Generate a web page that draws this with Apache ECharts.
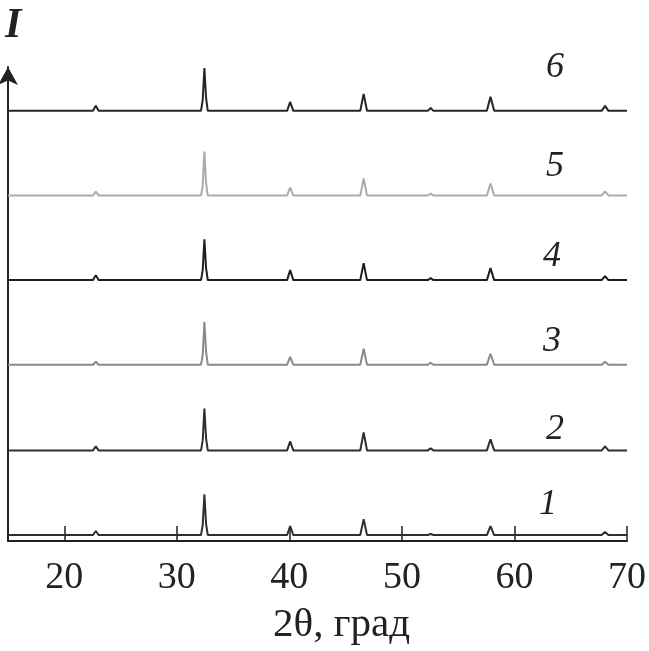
<!DOCTYPE html>
<html>
<head>
<meta charset="utf-8">
<script src="https://cdn.jsdelivr.net/npm/echarts@6/dist/echarts.min.js"></script>
<style>
  html, body { margin: 0; padding: 0; background: #fff; }
  #chart { width: 649px; height: 651px; }
</style>
</head>
<body>
<div id="chart"></div>
<script>
// 2θ positions where the patterns were sampled (deg)
const twoTheta = [15, 22.55, 22.8, 23.05, 32.15, 32.3, 32.45, 32.6, 32.75, 39.8, 40.07, 40.35,
  46.3, 46.6, 46.9, 52.3, 52.55, 52.8, 57.55, 57.87, 58.2, 67.75, 68.05, 68.35, 70];

// intensities for each pattern (arb. units), curve 1 .. curve 6
const curve1 = [0, 0, 4, 0, 0, 10, 41, 11, 0, 0, 9, 0, 0, 16, 0, 0, 1, 0, 0, 9, 0, 0, 3, 0, 0];
const curve2 = [0, 0, 4, 0, 0, 10, 42, 12, 0, 0, 9, 0, 0, 18, 0, 0, 2, 0, 0, 11, 0, 0, 4, 0, 0];
const curve3 = [0, 0, 3, 0, 0, 10, 43, 13, 0, 0, 8, 0, 0, 16, 0, 0, 2, 0, 0, 11, 0, 0, 3, 0, 0];
const curve4 = [0, 0, 5, 0, 0, 10, 41, 12, 0, 0, 10, 0, 0, 17, 0, 0, 2, 0, 0, 12, 0, 0, 4, 0, 0];
const curve5 = [0, 0, 4, 0, 0, 10, 44, 12, 0, 0, 8, 0, 0, 17, 0, 0, 2, 0, 0, 12, 0, 0, 4, 0, 0];
const curve6 = [0, 0, 5, 0, 0, 11, 43, 13, 0, 0, 9, 0, 0, 17, 0, 0, 3, 0, 0, 14, 0, 0, 5, 0, 0];

const curves = [curve1, curve2, curve3, curve4, curve5, curve6];
const curveNames = ["1", "2", "3", "4", "5", "6"];
// vertical shift of each pattern
const offsets = [6, 91, 177, 262, 347, 432];
const colors = ["#2e2e2e", "#2e2e2e", "#8a8a8a", "#1e1e1e", "#ababab", "#262626"];

const xTicks = [20, 30, 40, 50, 60, 70];

// label placement for the curve numbers (pixels)
const labelPos = [[548, 505], [555, 430], [552, 342], [552, 257], [555, 167], [555, 68]];

const chart = echarts.init(document.getElementById("chart"));

const seriesArr = curves.map((vals, i) => {
  return {
    type: "line",
    name: curveNames[i],
    showSymbol: false,
    silent: true,
    animation: false,
    lineStyle: { color: colors[i], width: 2 },
    data: twoTheta.map((x, k) => [x, offsets[i] + vals[k]]),
  };
});

const option = {
  backgroundColor: "#fff",
  grid: { left: 8, right: 21, top: 67, bottom: 108 },
  xAxis: {
    type: "value",
    min: 15,
    max: 70,
    name: "2θ, град",
    nameLocation: "middle",
    nameGap: 64,
    nameTextStyle: {
      fontFamily: "Liberation Serif",
      fontSize: 41,
      color: "#222",
      padding: [0, 0, 0, 48],
    },
    axisLine: { show: true, lineStyle: { color: "#222", width: 2 } },
    axisTick: {
      show: true,
      inside: true,
      length: 15,
      customValues: xTicks,
      lineStyle: { color: "#222", width: 1.5 },
    },
    axisLabel: {
      customValues: xTicks,
      margin: 18,
      fontFamily: "Liberation Serif",
      fontSize: 38,
      color: "#222",
    },
    splitLine: { show: false },
  },
  yAxis: {
    type: "value",
    min: 0,
    max: 476,
    axisLine: {
      show: true,
      symbol: ["none", "arrow"],
      symbolSize: [15, 18],
      lineStyle: { color: "#222", width: 2 },
    },
    axisTick: { show: false },
    axisLabel: { show: false },
    splitLine: { show: false },
  },
  graphic: [
    {
      type: "text",
      left: 5,
      top: 5,
      style: {
        text: "I",
        font: "italic bold 42px 'Liberation Serif'",
        fill: "#222",
      },
    },
  ].concat(
    labelPos.map((p, i) => ({
      type: "text",
      x: p[0],
      y: p[1],
      style: {
        text: curveNames[i],
        font: "italic 36px 'Liberation Serif'",
        fill: "#222",
        align: "center",
        verticalAlign: "middle",
      },
    }))
  ),
  series: seriesArr,
};

chart.setOption(option);
</script>
</body>
</html>
